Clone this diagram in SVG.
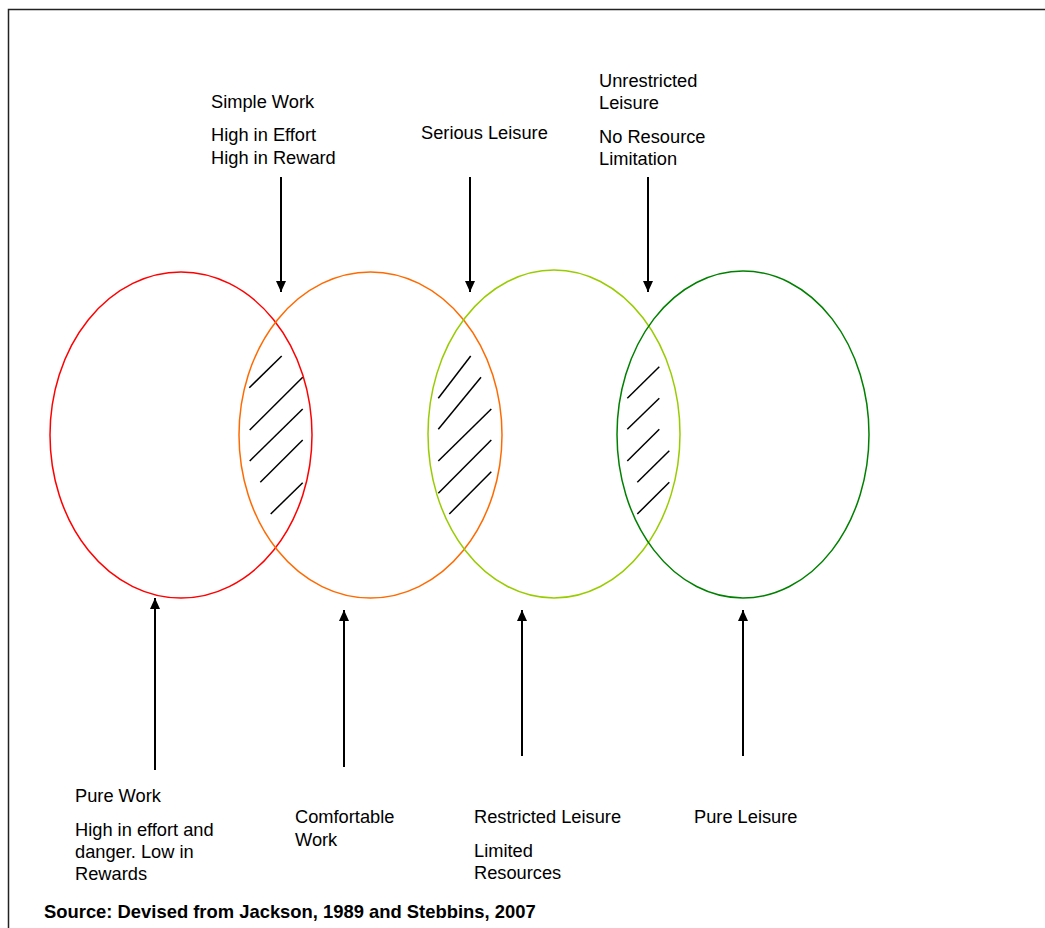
<svg xmlns="http://www.w3.org/2000/svg" width="1045" height="928" viewBox="0 0 1045 928">
<defs>
<marker id="ah" viewBox="0 0 11 10" markerWidth="11" markerHeight="10" refX="11" refY="5" orient="auto" markerUnits="userSpaceOnUse">
<path d="M0,0 L11,5 L0,10 z" fill="#000"/>
</marker>
</defs>
<style>
text{font-family:"Liberation Sans",Arial,sans-serif;font-size:18.25px;fill:#000}
.src{font-weight:bold;font-size:18.4px}
.ell{fill:none;stroke-width:1.5}
.hatch line{stroke:#000;stroke-width:1.5}
.conn line{stroke:#000;stroke-width:2;marker-end:url(#ah)}
</style>
<rect x="8.5" y="9.5" width="1100" height="1000" fill="#fff" stroke="#222" stroke-width="1.5"/>
<g id="pure-work-circle"><ellipse class="ell" cx="181" cy="435" rx="131" ry="163" stroke="#FF0000"/></g>
<g id="comfortable-work-circle"><ellipse class="ell" cx="370.5" cy="435" rx="131.5" ry="163" stroke="#FF6A00"/></g>
<g id="restricted-leisure-circle"><ellipse class="ell" cx="554" cy="434" rx="126" ry="164" stroke="#99CC00"/></g>
<g id="pure-leisure-circle"><ellipse class="ell" cx="743" cy="434.5" rx="126" ry="163.5" stroke="#008000"/></g>
<g id="hatch-1" class="hatch">
<line x1="249.3" y1="387.7" x2="281.7" y2="356"/>
<line x1="249.7" y1="430" x2="302.7" y2="377.3"/>
<line x1="249.7" y1="461" x2="302.7" y2="409"/>
<line x1="260.3" y1="482.3" x2="302.7" y2="440"/>
<line x1="270.7" y1="514" x2="302.7" y2="482.7"/>
</g>
<g id="hatch-2" class="hatch">
<line x1="438.3" y1="398.3" x2="470.7" y2="356"/>
<line x1="438.3" y1="429.3" x2="481" y2="377.3"/>
<line x1="438.3" y1="461" x2="491.3" y2="409"/>
<line x1="438.3" y1="493.3" x2="491.3" y2="440"/>
<line x1="449.3" y1="514" x2="491.3" y2="471.7"/>
</g>
<g id="hatch-3" class="hatch">
<line x1="627.3" y1="398.3" x2="659.3" y2="366.7"/>
<line x1="627.3" y1="429.3" x2="659.3" y2="398.3"/>
<line x1="627.3" y1="461" x2="659.3" y2="429.3"/>
<line x1="637.3" y1="482.3" x2="669.3" y2="450.7"/>
<line x1="637.3" y1="514" x2="669.3" y2="482.3"/>
</g>
<g id="connectors" class="conn">
<line x1="281" y1="177" x2="281" y2="292"/>
<line x1="470" y1="177" x2="470" y2="292"/>
<line x1="648" y1="177" x2="648" y2="292"/>
<line x1="155" y1="770" x2="155" y2="598"/>
<line x1="344" y1="767" x2="344" y2="610"/>
<line x1="522" y1="756" x2="522" y2="610"/>
<line x1="743" y1="756" x2="743" y2="610"/>
</g>
<g id="label-simple-work">
<text x="211" y="107.5">Simple Work</text>
<text x="211" y="140.5">High in Effort</text>
<text x="211" y="163.5">High in Reward</text>
</g>
<g id="label-serious-leisure">
<text x="421" y="138.5">Serious Leisure</text>
</g>
<g id="label-unrestricted-leisure">
<text x="599" y="86.5">Unrestricted</text>
<text x="599" y="108.5">Leisure</text>
<text x="599" y="142.5">No Resource</text>
<text x="599" y="164.5">Limitation</text>
</g>
<g id="label-pure-work">
<text x="75" y="801.5">Pure Work</text>
<text x="75" y="835.5">High in effort and</text>
<text x="75" y="857.5">danger. Low in</text>
<text x="75" y="879.5">Rewards</text>
</g>
<g id="label-comfortable-work">
<text x="295" y="822.5">Comfortable</text>
<text x="295" y="845.5">Work</text>
</g>
<g id="label-restricted-leisure">
<text x="474" y="822.5">Restricted Leisure</text>
<text x="474" y="856.5">Limited</text>
<text x="474" y="878.5">Resources</text>
</g>
<g id="label-pure-leisure">
<text x="694" y="822.5">Pure Leisure</text>
</g>
<g id="source">
<text class="src" x="44" y="918">Source: Devised from Jackson, 1989 and Stebbins, 2007</text>
</g>
</svg>
